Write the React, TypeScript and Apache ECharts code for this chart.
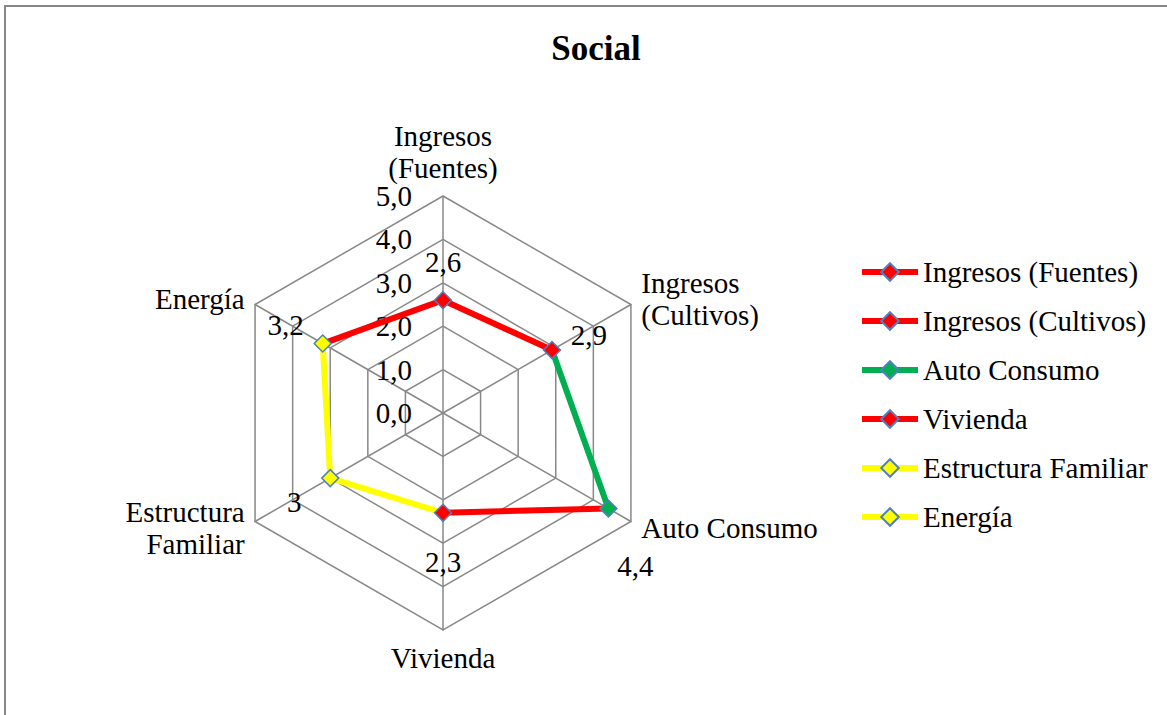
import React, { useEffect, useRef } from 'react';
import * as echarts from 'echarts';

const categories = ['Ingresos (Fuentes)', 'Ingresos (Cultivos)', 'Auto Consumo', 'Vivienda', 'Estructura Familiar', 'Energía'];
const axisNames = ['Ingresos\n(Fuentes)', 'Ingresos\n(Cultivos)', 'Auto Consumo', 'Vivienda', 'Estructura\nFamiliar', 'Energía'];
const values = [2.6, 2.9, 4.4, 2.3, 3, 3.2];
const pointColors = ['#FF0000', '#FF0000', '#00B050', '#FF0000', '#FFFF00', '#FFFF00'];
const axisMin = 0;
const axisMax = 5;
const tickStep = 1;

// style: label offsets relative to each point
const labelOffsets = [[0, -38], [37, -15], [27, 58], [0, 49], [-36, 24], [-37, -19]];

const FONT = 'Liberation Serif, Times New Roman, serif';
const FS = 29;
const CENTER = [443, 413];
const RADIUS = 217;

const fmt = (v: number) => String(v).replace('.', ',');

export default function App() {
  const ref = useRef<HTMLDivElement>(null);
  useEffect(() => {
    if (!ref.current) return;
    const chart = echarts.init(ref.current, null, { renderer: 'svg' });
    const n = categories.length;
    const step = 360 / n;
    // radar indicators go counter-clockwise; reorder so they read clockwise
    const order = categories.map((_, k) => (n - k) % n);
    const indicator = order.map((i) => ({ name: axisNames[i], min: axisMin, max: axisMax }));

    const segSeries = categories.map((name, i) => {
      const end = i === 0 ? 360 : step * i;
      const prev = (i + n - 1) % n;
      return {
        type: 'line',
        name,
        coordinateSystem: 'polar',
        symbol: 'diamond',
        symbolSize: 16,
        showSymbol: true,
        itemStyle: { color: pointColors[i], borderColor: '#4F81BD', borderWidth: 1.5, opacity: 1 },
        lineStyle: { color: pointColors[i], width: 6 },
        z: 3,
        data: [
          { value: [values[prev], end - step], symbol: 'none' },
          { value: [values[i], end], symbol: 'none' },
        ],
      };
    });

    const markerSeries = {
      type: 'scatter',
      name: 'markers',
      coordinateSystem: 'polar',
      symbol: 'diamond',
      symbolSize: 17,
      z: 5,
      itemStyle: { opacity: 1 },
      data: values.map((v, i) => ({
        value: [v, step * i],
        itemStyle: { color: pointColors[i], borderColor: '#4F81BD', borderWidth: 1.5, opacity: 1 },
        label: {
          show: true,
          position: 'inside',
          offset: labelOffsets[i],
          formatter: fmt(v),
          color: '#000',
          opacity: 1,
          fontFamily: FONT,
          fontSize: FS,
        },
      })),
    };

    chart.setOption({
      animation: false,
      backgroundColor: '#fff',
      textStyle: { fontFamily: FONT, color: '#000' },
      title: {
        text: 'Social',
        left: 591,
        top: 26,
        textAlign: 'center',
        textStyle: { fontFamily: FONT, fontSize: 35, fontWeight: 'bold', color: '#000' },
      },
      legend: {
        orient: 'vertical',
        left: 854,
        top: 251,
        itemWidth: 56,
        itemHeight: 22,
        itemGap: 17,
        data: categories,
        lineStyle: { width: 6 },
        textStyle: { fontFamily: FONT, fontSize: FS, color: '#000', lineHeight: 32 },
      },
      radar: {
        center: CENTER,
        radius: RADIUS,
        shape: 'polygon',
        splitNumber: (axisMax - axisMin) / tickStep,
        indicator,
        nameGap: 12,
        axisName: { color: '#000', fontFamily: FONT, fontSize: FS, lineHeight: 32 },
        splitLine: { lineStyle: { color: '#898989', width: 1.5 } },
        splitArea: { show: false },
        axisLine: { lineStyle: { color: '#898989', width: 1.5 } },
        axisTick: { show: false },
        axisLabel: { show: false },
      },
      polar: { center: CENTER, radius: RADIUS },
      angleAxis: {
        type: 'value',
        min: 0,
        max: 360,
        startAngle: 90,
        clockwise: true,
        show: false,
      },
      radiusAxis: {
        type: 'value',
        min: axisMin,
        max: axisMax,
        interval: tickStep,
        axisLine: { show: false },
        axisTick: { show: false },
        splitLine: { show: false },
        axisLabel: {
          show: true,
          margin: 31,
          formatter: (v: number) => v.toFixed(1).replace('.', ','),
          color: '#000',
          fontFamily: FONT,
          fontSize: FS,
        },
      },
      graphic: [
        {
          type: 'rect',
          shape: { x: 5, y: 6, width: 1200, height: 760 },
          style: { fill: 'none', stroke: '#888', lineWidth: 2 },
          silent: true,
        },
      ],
      series: [...segSeries, markerSeries],
    });
    return () => chart.dispose();
  }, []);
  return <div ref={ref} style={{ position: 'fixed', left: 0, top: 0, width: 1167, height: 715 }} />;
}
